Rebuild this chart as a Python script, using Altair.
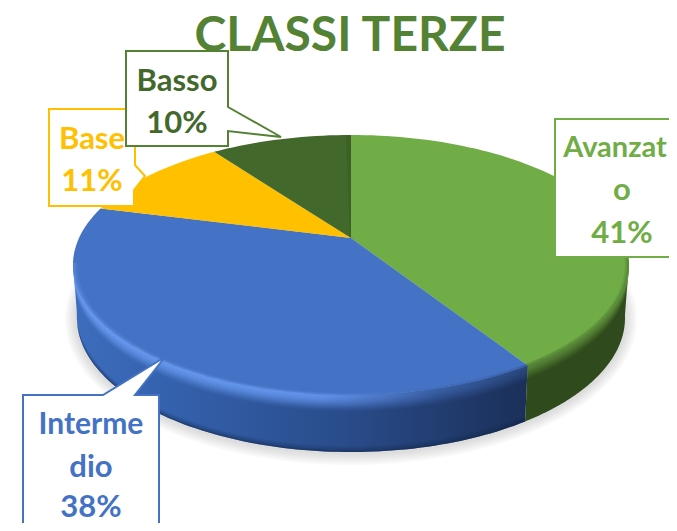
import math
import altair as alt

title_text = "CLASSI TERZE"
categories = ["Avanzato", "Intermedio", "Base", "Basso"]
values = [41, 38, 11, 10]
face_colors = ["#70AD47", "#4472C4", "#FFC000", "#43682B"]

M = 8
CX, CY, RX, RY, DEPTH = 351.0, 265.0, 278.0, 130.0, 53.0


def top_pt(frac):
    """Perspective view of a disc: share of the turn to point on the rim."""
    t = 2 * math.pi * frac
    x, y = math.sin(t), math.cos(t)
    d = 1 + 0.2077 * y
    return (CX + 272 * x / d, (238 - 75 * y) / d)


APEX = (CX, 238.0)


def ell(s, phi, k=1.0):
    cy = CY + DEPTH * s
    rx = (RX - 4 * s) * k
    ry = (RY + 4 * s) * k
    return (CX + rx * math.cos(phi), cy + ry * math.sin(phi))


def phi_of(frac):
    px, py = top_pt(frac)
    return math.atan2((py - CY) / RY, (px - CX) / RX)


def feature(points):
    pts = [[p[0] - M, p[1] - M] for p in points]
    pts.append(pts[0])
    return {"type": "Feature", "properties": {},
            "geometry": {"type": "Polygon", "coordinates": [pts]}}


def shape(points, **kw):
    return alt.Chart(alt.Data(values=[feature(points)])).mark_geoshape(**kw).project(
        type="identity", scale=1, translate=[0, 0])


def ring(s0, s1, p0, p1, n=90):
    a = [ell(s0, p0 + (p1 - p0) * i / n) for i in range(n + 1)]
    b = [ell(s1, p1 - (p1 - p0) * i / n) for i in range(n + 1)]
    return a + b


def face_ring(k0, k1, p0, p1, n=90):
    a = [ell(0, p0 + (p1 - p0) * i / n, k0) for i in range(n + 1)]
    b = [ell(0, p1 - (p1 - p0) * i / n, k1) for i in range(n + 1)]
    return a + b


def grad(stops):
    return alt.LinearGradient(
        gradient="linear", x1=0, x2=1, y1=0, y2=0,
        stops=[alt.GradientStop(color=c, offset=o) for o, c in stops])


layers = []

# soft shadow
for g in [12, 10, 8, 6, 4, 2]:
    pts = [(CX + (RX - 4 + g) * math.cos(2 * math.pi * i / 120),
            CY + DEPTH + 1 + (RY + 4 + g) * math.sin(2 * math.pi * i / 120)) for i in range(120)]
    layers.append(shape(pts, fill="#808080", opacity=0.05))

# cumulative shares
cum = [0]
for v in values:
    cum.append(cum[-1] + v)
total = cum[-1]
fr = [c / total for c in cum]

phi_split = phi_of(fr[1])
L = math.pi + 0.02

# side wall
blue_base = grad([(0, "#3D6DBE"), (0.2, "#3562AE"), (0.6, "#294C8A"), (1, "#1B2F58")])
green_base = "#2F4A1C"
layers.append(shape(ring(0, 1, phi_split, L), fill=blue_base))
layers.append(shape(ring(0, 1, -0.02, phi_split), fill=green_base))

# dark foot of the wall
for s0, op in [(0.9, 0.12), (0.93, 0.15), (0.96, 0.2), (0.98, 0.25)]:
    layers.append(shape(ring(s0, 1, phi_split, L), fill="#12264C", opacity=op))

# bevel on the wall
blue_hi = grad([(0, "#6A9CF2"), (0.55, "#6497F0"), (0.8, "#3A62A8"), (1, "#2A4880")])
for i in range(12):
    s1 = 0.28 - i * 0.022
    layers.append(shape(ring(0, s1, phi_split, L), fill=blue_hi, opacity=0.06 + i * 0.022))
for i in range(10):
    s1 = 0.26 - i * 0.024
    layers.append(shape(ring(0, s1, -0.02, phi_split), fill="#5F8F3E", opacity=0.05 + i * 0.025))

# top faces
for i, c in enumerate(face_colors):
    n = max(8, int(values[i] * 2))
    arc = [top_pt(fr[i] + (fr[i + 1] - fr[i]) * j / n) for j in range(n + 1)]
    layers.append(shape([APEX] + arc, fill=c))

# soft edge of the top faces
for k, op in [(0.985, 0.18), (0.992, 0.25)]:
    layers.append(shape(face_ring(k, 1, phi_split, L), fill=blue_hi, opacity=op))
for k, op in [(0.985, 0.2), (0.992, 0.3)]:
    layers.append(shape(face_ring(k, 1, -0.12, phi_split), fill="#3E6426", opacity=op))

# small shaded seam beside the twelve o'clock edge
layers.append(shape([APEX, (CX, 135), (CX - 5, 135.2), (CX - 1, 238)], fill="#33501F", opacity=0.3))


def text(s, x, y, color, size=31):
    return alt.Chart(alt.Data(values=[{"t": s}])).mark_text(
        font="Lato", fontWeight="bold", fontSize=size, color=color,
        align="center", baseline="middle").encode(
        text="t:N", x=alt.value(x - M), y=alt.value(y - M))


# title sits under the callouts
layers.append(text(title_text, 350, 37, "#548235", size=48))

# callouts
box_w = 2
layers.append(shape([(49, 109), (135, 109), (135, 165), (145, 176), (134, 190), (134, 206), (49, 206)],
                    fill="white", stroke="#FFC000", strokeWidth=box_w))
layers.append(shape([(126, 51), (228, 51), (228, 107), (281, 137), (228, 131), (228, 146), (126, 146)],
                    fill="white", stroke="#548235", strokeWidth=box_w))
layers.append(shape([(555, 119), (720, 119), (720, 257), (555, 257)],
                    fill="white", stroke="#70AD47", strokeWidth=box_w))
layers.append(shape([(23, 395), (103, 395), (165, 357), (135, 395), (159, 395), (159, 580), (23, 580)],
                    fill="white", stroke="#4472C4", strokeWidth=box_w))

layers.append(text(categories[2], 92, 140, "#FFC000"))
layers.append(text(f"{values[2]}%", 92, 182, "#FFC000"))
layers.append(text(categories[3], 177, 82, "#43682B"))
layers.append(text(f"{values[3]}%", 177, 124, "#43682B"))
layers.append(text(categories[0][:7], 615, 148, "#70AD47", size=29))
layers.append(text(categories[0][7:], 622, 191, "#70AD47"))
layers.append(text(f"{values[0]}%", 622, 234, "#70AD47"))
layers.append(text(categories[1][:7], 91, 425, "#4472C4", size=30))
layers.append(text(categories[1][7:], 91, 468, "#4472C4"))
layers.append(text(f"{values[1]}%", 91, 508, "#4472C4"))

chart = alt.layer(*layers).properties(
    width=661, height=515, padding=0, autosize=alt.AutoSizeParams(type="none"),
    background="white",
).configure_view(stroke=None)

chart.save("out.html", embed_options={"renderer": "svg", "actions": False})
